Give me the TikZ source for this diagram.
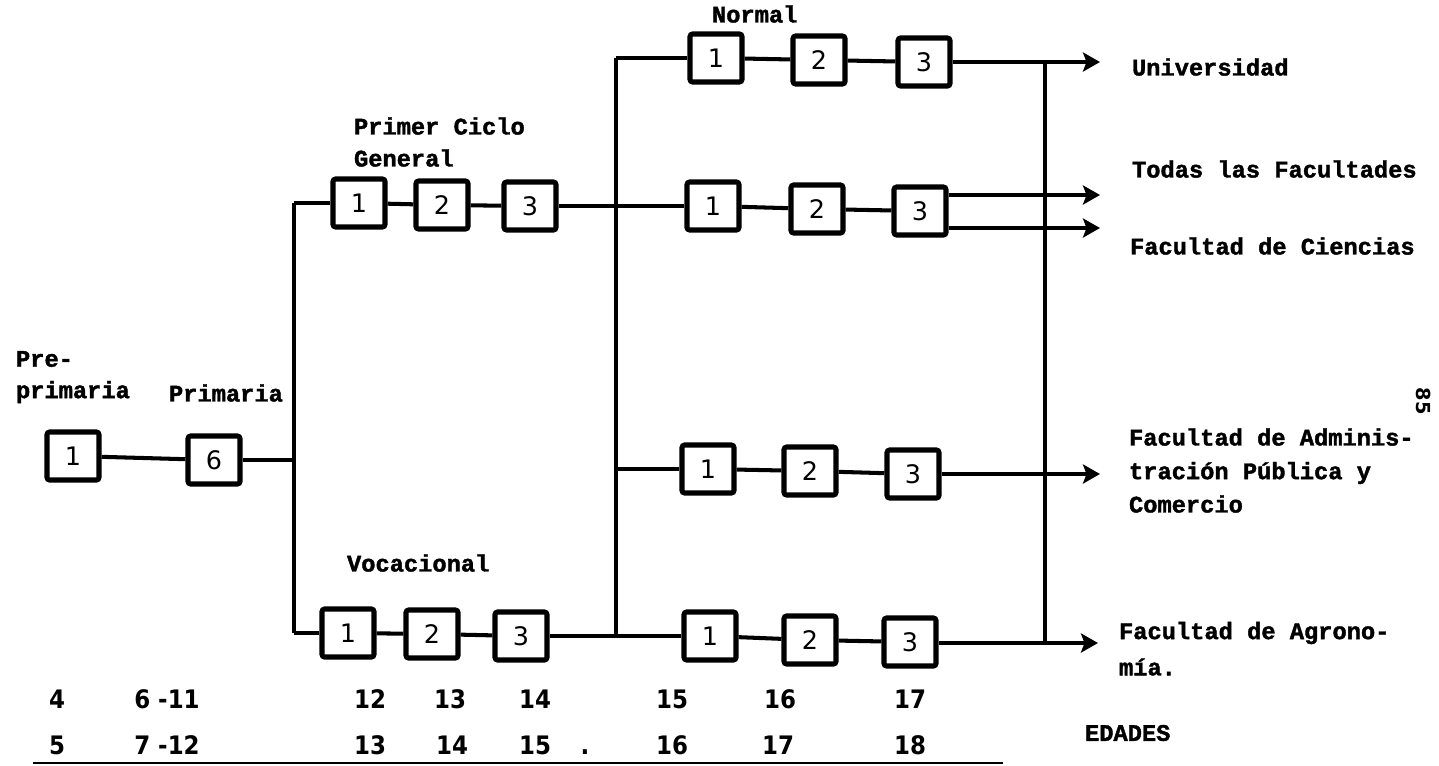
\documentclass[tikz,border=0pt]{standalone}
\usepackage{fontspec}
\setmainfont{Liberation Mono}[BoldFeatures={FakeBold=1.6}]
\newfontfamily\numfont{DejaVu Sans}
\newfontfamily\agefont{DejaVu Sans Condensed}
\usetikzlibrary{arrows.meta}
\begin{document}
\begin{tikzpicture}[x=0.02cm,y=-0.02cm,line width=2.3pt,
  box/.style={draw,line width=2.9pt,rounded corners=1.5pt,minimum width=1.04cm,minimum height=0.96cm,inner sep=0pt,font=\numfont\fontsize{14.5}{14.5}\selectfont},
  lbl/.style={font=\bfseries\fontsize{13.5}{14}\selectfont,inner sep=0pt,anchor=west},
  age/.style={font=\agefont\bfseries\fontsize{14.5}{15}\selectfont,inner sep=0pt},
  arr/.style={-{Stealth[length=0.34cm,width=0.38cm,inset=0.07cm]}}]
\useasboundingbox (0,0) rectangle (1439,765);
% boxes
\node[box] (p1) at (73,456) {1};
\node[box] (p6) at (214,460) {6};
\node[box] (g1) at (359,203) {1};
\node[box] (g2) at (442,205) {2};
\node[box] (g3) at (530,206) {3};
\node[box] (v1) at (348,633) {1};
\node[box] (v2) at (432,634) {2};
\node[box] (v3) at (521,636) {3};
\node[box] (n1) at (716,58) {1};
\node[box] (n2) at (819,60) {2};
\node[box] (n3) at (924,62) {3};
\node[box] (a1) at (713,206) {1};
\node[box] (a2) at (817,209) {2};
\node[box] (a3) at (920,211) {3};
\node[box] (c1) at (708,469) {1};
\node[box] (c2) at (810,471) {2};
\node[box] (c3) at (913,474) {3};
\node[box] (d1) at (710,636) {1};
\node[box] (d2) at (810,640) {2};
\node[box] (d3) at (910,642) {3};
% junction coordinates
\coordinate (j1t) at (294,203);
\coordinate (j1m) at (294,460);
\coordinate (j1b) at (294,633);
\coordinate (j2t) at (616,58);
\coordinate (j2m) at (616,469);
\coordinate (j2b) at (616,636);
\coordinate (r1) at (1045,62);
\coordinate (r4) at (1045,643);
\coordinate (tU) at (1100,62);
\coordinate (tT) at (1100,195);
\coordinate (tC) at (1100,228);
\coordinate (tA) at (1100,474);
\coordinate (tG) at (1098,643);
% connectors
\draw (p1) -- (p6);
\draw (p6) -- (j1m);
\draw (j1t) -- (j1b);
\draw (j1t) -- (g1);
\draw (g1) -- (g2);
\draw (g2) -- (g3);
\draw (g3) -- (a1);
\draw (j1b) -- (v1);
\draw (v1) -- (v2);
\draw (v2) -- (v3);
\draw (v3) -- (d1);
\draw (j2t) -- (j2b);
\draw (j2t) -- (n1);
\draw (n1) -- (n2);
\draw (n2) -- (n3);
\draw (a1) -- (a2);
\draw (a2) -- (a3);
\draw (j2m) -- (c1);
\draw (c1) -- (c2);
\draw (c2) -- (c3);
\draw (d1) -- (d2);
\draw (d2) -- (d3);
\draw (r1) -- (r4);
\draw[arr] (n3) -- (tU);
\draw[arr] (a3.east |- tT) -- (tT);
\draw[arr] (a3.east |- tC) -- (tC);
\draw[arr] (c3) -- (tA);
\draw[arr] (d3.east |- tG) -- (tG);
% labels
\node[lbl] (lpre) at (14,359) {Pre-};
\node[lbl] (lprim) at (14,392) {primaria};
\node[lbl] (lprima) at (167,393) {Primaria};
\node[lbl] (lpc) at (352,126) {Primer Ciclo};
\node[lbl] (lgen) at (352,158) {General};
\node[lbl] (lnor) at (710,14) {Normal};
\node[lbl] (lvoc) at (345,563) {Vocacional};
\node[lbl] (lu) at (1130,67) {Universidad};
\node[lbl] (lt) at (1130,169) {Todas las Facultades};
\node[lbl] (lc) at (1128,246) {Facultad de Ciencias};
\node[lbl] (la1) at (1127,437) {Facultad de Adminis-};
\node[lbl] (la2) at (1127,473) {tración Pública y};
\node[lbl] (la3) at (1127,504) {Comercio};
\node[lbl] (lg1) at (1117,633) {Facultad de Agrono-};
\node[lbl] (lg2) at (1117,667) {mía.};
\node[lbl] (led) at (1083,733) {EDADES};
\node[font=\numfont\bfseries\fontsize{11}{11}\selectfont,rotate=-90,inner sep=0pt] (pg) at (1424,401) {85};
% ages
\node[age] (e1a) at (57,699) {4};
\node[age] (e2a) at (167,699) {6 -11};
\node[age] (e3a) at (370,699) {12};
\node[age] (e4a) at (450,699) {13};
\node[age] (e5a) at (535,699) {14};
\node[age] (e6a) at (672,699) {15};
\node[age] (e7a) at (780,699) {16};
\node[age] (e8a) at (910,699) {17};
\node[age] (e1b) at (57,745) {5};
\node[age] (e2b) at (167,745) {7 -12};
\node[age] (e3b) at (370,745) {13};
\node[age] (e4b) at (452,745) {14};
\node[age] (e5b) at (535,745) {15};
\node[age] (dot) at (585,752) {.};
\node[age] (e6b) at (672,745) {16};
\node[age] (e7b) at (778,745) {17};
\node[age] (e8b) at (910,745) {18};
\coordinate (bl) at (33,763);
\coordinate (br) at (1003,763);
\draw[line width=1.4pt] (bl) -- (br);
\end{tikzpicture}
\end{document}
